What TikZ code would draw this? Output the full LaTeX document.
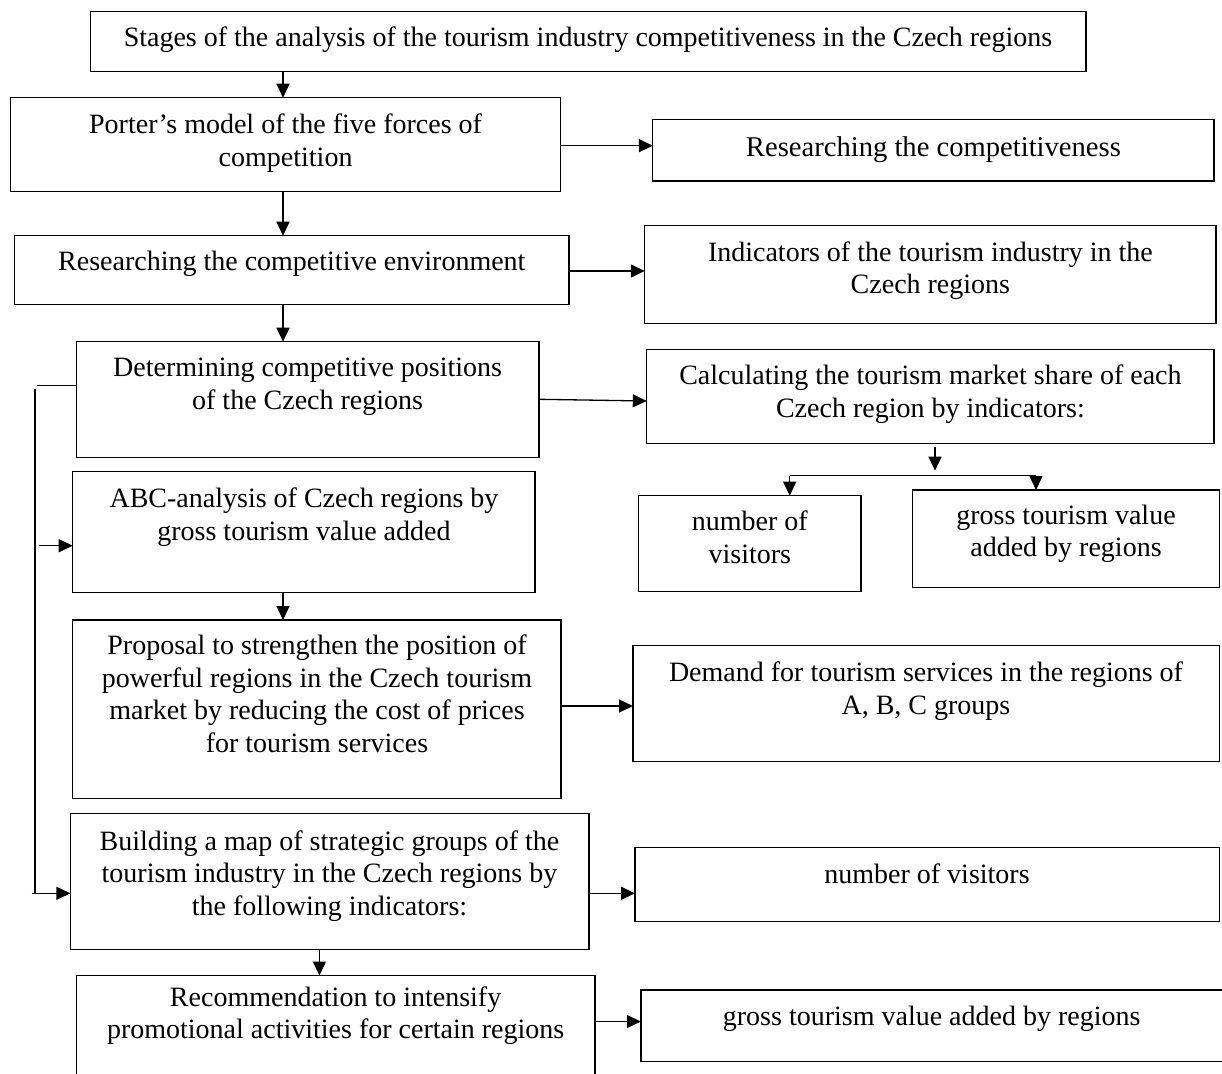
\documentclass[tikz,border=0pt]{standalone}
\usepackage{fontspec}
\setmainfont{Liberation Serif}
\usetikzlibrary{arrows.meta}
\newcommand\mybox[5]{\node[box,minimum width={(#4)-(#2)},minimum height={(#5)-(#3)}] (#1) at (#2,#3) {};}
\begin{document}
\begin{tikzpicture}[x=1pt,y=-1pt,
  box/.style={draw=black,line width=1.3pt,anchor=north west,inner sep=0pt,outer sep=0pt},
  txt/.style={font=\fontsize{28}{32.5}\selectfont,align=center,inner sep=0pt,anchor=north},
  tnr/.style={font=\fontsize{28.6}{33}\selectfont,align=center,inner sep=0pt,anchor=north},
  conn/.style={line width=1.3pt},
  arr/.style={line width=1.3pt,-{Triangle[length=14pt,width=13pt]}}]
\useasboundingbox (0,0) rectangle (1222,1073);
\clip (0,0) rectangle (1222,1073);
% boxes
\mybox{stages}{90.5}{11.7}{1086}{71.3}
\mybox{porter}{10.7}{97.7}{560.5}{191.5}
\mybox{compet}{652.8}{119.3}{1214}{181}
\mybox{env}{14.6}{235.7}{569}{304.3}
\mybox{indic}{644.8}{225.7}{1216}{323.3}
\mybox{det}{76.3}{341.7}{539}{457.5}
\mybox{calc}{646.8}{349.7}{1214}{443.3}
\mybox{abc}{72.7}{471.7}{535}{592.7}
\mybox{nvis}{638.5}{495.7}{861}{591.7}
\mybox{gva}{912.7}{490}{1219.4}{587.3}
\mybox{prop}{72.7}{620}{561}{798.7}
\mybox{dem}{633}{645.7}{1219.4}{761.7}
\mybox{build}{70.4}{813.3}{589}{949.3}
\mybox{nvis2}{635}{847.7}{1219.4}{921.3}
\mybox{rec}{76.3}{975.5}{595}{1090}
\mybox{gva2}{640.9}{990}{1230}{1061.5}
% texts
\node[txt] (tstages) at (588,23.25) {\strut Stages of the analysis of the tourism industry competitiveness in the Czech regions};
\node[txt] (tporter) at (285.6,110.55) {\strut Porter’s model of the five forces of\\competition};
\node[tnr] (tcompet) at (933.4,133.6) {\strut Researching the competitiveness};
\node[txt] (tenv) at (291.8,247.25) {\strut Researching the competitive environment};
\node[txt] (tindic) at (930.4,238.25) {\strut Indicators of the tourism industry in the\\Czech regions};
\node[txt] (tdet) at (307.6,353.95) {\strut Determining competitive positions\\of the Czech regions};
\node[txt] (tcalc) at (930.4,361.55) {\strut Calculating the tourism market share of each\\Czech region by indicators:};
\node[txt] (tabc) at (304,484.55) {\strut ABC-analysis of Czech regions by\\gross tourism value added};
\node[txt] (tnvis) at (749.8,507.95) {\strut number of\\visitors};
\node[txt] (tgva) at (1066,501.25) {\strut gross tourism value\\added by regions};
\node[txt] (tprop) at (317,631.55) {\strut Proposal to strengthen the position of\\powerful regions in the Czech tourism\\market by reducing the cost of prices\\for tourism services};
\node[txt] (tdem) at (926,658.95) {\strut Demand for tourism services in the regions of\\A, B, C groups};
\node[txt] (tbuild) at (329.5,827.25) {\strut Building a map of strategic groups of the\\tourism industry in the Czech regions by\\the following indicators:};
\node[txt] (trec) at (335.6,983.25) {\strut Recommendation to intensify\\promotional activities for certain regions};
\node[txt] (tnvis2) at (927,860.55) {\strut number of visitors};
\node[txt] (tgva2) at (931.7,1002.25) {\strut gross tourism value added by regions};
% vertical flow
\draw[arr] (283,0 |- stages.south) -- (283,0 |- porter.north);
\draw[arr] (283,0 |- porter.south) -- (283,0 |- env.north);
\draw[arr] (283,0 |- env.south) -- (283,0 |- det.north);
\draw[arr] (283,0 |- abc.south) -- (283,0 |- prop.north);
\draw[arr] (319.4,0 |- build.south) -- (319.4,0 |- rec.north);
% horizontal arrows
\draw[arr] (porter.east |- 0,145.7) -- (compet.west |- 0,145.7);
\draw[arr] (env.east |- 0,271) -- (indic.west |- 0,271);
\draw[arr] (det.east |- 0,399.3) -- (calc.west |- 0,401);
\draw[arr] (prop.east |- 0,706) -- (dem.west |- 0,706);
\draw[arr] (build.east |- 0,893.3) -- (nvis2.west |- 0,893.3);
\draw[arr] (rec.east |- 0,1021.5) -- (gva2.west |- 0,1021.5);
% branch below calculating
\coordinate (c1) at (935,447.3);
\coordinate (c2) at (935,470.7);
\coordinate (bl) at (789.7,475.7);
\coordinate (br) at (1036,475.7);
\draw[arr] (c1) -- (c2);
\draw[conn] (bl) -- (br);
\draw[arr] (bl) -- (bl |- nvis.north);
\draw[arr] (br) -- (br |- gva.north);
% left feedback line
\coordinate (lt) at (36.7,385.7);
\coordinate (lv1) at (35,389.3);
\coordinate (lv2) at (35,893.3);
\coordinate (lh) at (31.6,893.3);
\coordinate (la) at (39,545.7);
\draw[conn] (det.west |- lt) -- (lt);
\draw[conn] (lv1) -- (lv2);
\draw[arr] (la) -- (abc.west |- la);
\draw[arr] (lh) -- (build.west |- lh);
\end{tikzpicture}
\end{document}
